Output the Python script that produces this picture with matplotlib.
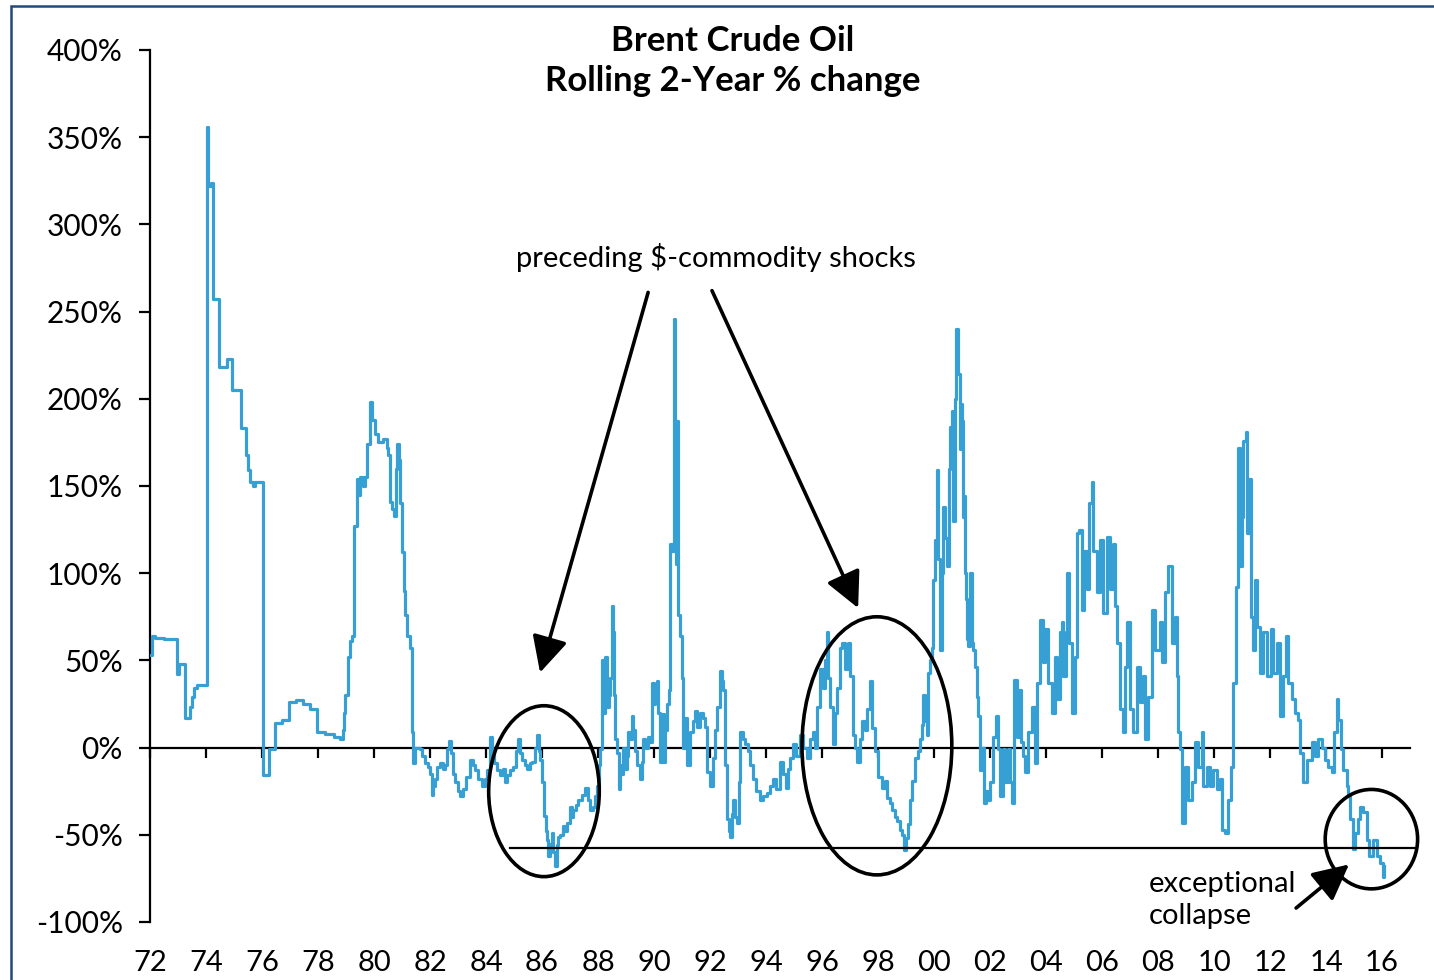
# -*- coding: utf-8 -*-

import matplotlib
matplotlib.use('Agg')
import matplotlib.pyplot as plt
import matplotlib.ticker as ticker
from matplotlib.patches import Ellipse, Rectangle


plt.rcParams['font.family'] = ['Lato', 'DejaVu Sans']
plt.rcParams['axes.unicode_minus'] = False

# Brent, rolling 2-year % change (decimal year, %)
years = [
    1972.00, 1972.08, 1972.17, 1972.50, 1972.96, 1973.04, 1973.25, 1973.42, 1973.50, 1973.58,
    1973.67, 1974.04, 1974.08, 1974.17, 1974.25, 1974.46, 1974.75, 1974.92, 1975.25, 1975.42,
    1975.50, 1975.58, 1975.67, 1975.75, 1976.04, 1976.25, 1976.46, 1976.71, 1976.96, 1977.21,
    1977.46, 1977.71, 1977.96, 1978.25, 1978.58, 1978.79, 1978.89, 1978.93, 1978.96, 1979.07,
    1979.14, 1979.21, 1979.29, 1979.39, 1979.43, 1979.50, 1979.61, 1979.68, 1979.75, 1979.86,
    1979.93, 1980.04, 1980.14, 1980.32, 1980.46, 1980.50, 1980.57, 1980.64, 1980.71, 1980.79,
    1980.82, 1980.89, 1980.93, 1981.00, 1981.07, 1981.11, 1981.18, 1981.29, 1981.36, 1981.39,
    1981.46, 1981.57, 1981.64, 1981.71, 1981.82, 1981.93, 1982.00, 1982.07, 1982.11, 1982.18,
    1982.25, 1982.36, 1982.46, 1982.54, 1982.61, 1982.68, 1982.75, 1982.82, 1982.89, 1983.00,
    1983.07, 1983.18, 1983.29, 1983.43, 1983.54, 1983.61, 1983.71, 1983.86, 1983.96, 1984.04,
    1984.14, 1984.21, 1984.29, 1984.39, 1984.50, 1984.61, 1984.68, 1984.75, 1984.86, 1984.96,
    1985.07, 1985.14, 1985.21, 1985.29, 1985.39, 1985.46, 1985.57, 1985.64, 1985.75, 1985.82,
    1985.89, 1985.93, 1986.00, 1986.07, 1986.14, 1986.18, 1986.21, 1986.29, 1986.36, 1986.39,
    1986.46, 1986.54, 1986.57, 1986.64, 1986.75, 1986.82, 1986.89, 1987.00, 1987.07, 1987.11,
    1987.21, 1987.29, 1987.43, 1987.54, 1987.64, 1987.71, 1987.82, 1987.89, 1987.96, 1988.04,
    1988.07, 1988.14, 1988.18, 1988.25, 1988.32, 1988.39, 1988.43, 1988.50, 1988.54, 1988.57,
    1988.61, 1988.68, 1988.75, 1988.79, 1988.86, 1988.89, 1988.96, 1989.04, 1989.07, 1989.14,
    1989.21, 1989.25, 1989.32, 1989.39, 1989.50, 1989.57, 1989.61, 1989.68, 1989.79, 1989.86,
    1989.93, 1990.00, 1990.04, 1990.11, 1990.14, 1990.21, 1990.29, 1990.36, 1990.39, 1990.46,
    1990.54, 1990.57, 1990.64, 1990.71, 1990.75, 1990.79, 1990.82, 1990.86, 1990.93, 1991.00,
    1991.04, 1991.11, 1991.18, 1991.29, 1991.39, 1991.46, 1991.54, 1991.64, 1991.75, 1991.82,
    1991.89, 1992.00, 1992.11, 1992.18, 1992.25, 1992.36, 1992.43, 1992.46, 1992.54, 1992.61,
    1992.68, 1992.71, 1992.79, 1992.82, 1992.89, 1992.96, 1993.04, 1993.07, 1993.18, 1993.25,
    1993.36, 1993.43, 1993.54, 1993.64, 1993.79, 1993.89, 1994.04, 1994.14, 1994.25, 1994.36,
    1994.50, 1994.61, 1994.71, 1994.79, 1994.86, 1994.96, 1995.07, 1995.21, 1995.32, 1995.46,
    1995.57, 1995.68, 1995.75, 1995.82, 1995.93, 1996.04, 1996.11, 1996.18, 1996.21, 1996.29,
    1996.39, 1996.46, 1996.54, 1996.64, 1996.71, 1996.82, 1996.93, 1997.00, 1997.11, 1997.18,
    1997.25, 1997.36, 1997.43, 1997.54, 1997.61, 1997.71, 1997.79, 1997.89, 1998.00, 1998.14,
    1998.25, 1998.32, 1998.43, 1998.50, 1998.61, 1998.68, 1998.79, 1998.86, 1998.93, 1999.00,
    1999.07, 1999.14, 1999.21, 1999.32, 1999.43, 1999.50, 1999.57, 1999.61, 1999.68, 1999.75,
    1999.79, 1999.86, 1999.93, 1999.96, 2000.04, 2000.11, 2000.14, 2000.21, 2000.29, 2000.32,
    2000.39, 2000.46, 2000.54, 2000.57, 2000.64, 2000.68, 2000.75, 2000.79, 2000.86, 2000.93,
    2000.96, 2001.00, 2001.04, 2001.07, 2001.11, 2001.14, 2001.18, 2001.21, 2001.29, 2001.36,
    2001.39, 2001.46, 2001.54, 2001.57, 2001.64, 2001.71, 2001.79, 2001.86, 2001.93, 2002.00,
    2002.11, 2002.21, 2002.29, 2002.36, 2002.46, 2002.54, 2002.64, 2002.71, 2002.79, 2002.86,
    2002.96, 2003.04, 2003.11, 2003.18, 2003.25, 2003.36, 2003.50, 2003.61, 2003.68, 2003.79,
    2003.89, 2003.96, 2004.07, 2004.21, 2004.32, 2004.39, 2004.50, 2004.57, 2004.61, 2004.71,
    2004.75, 2004.82, 2004.93, 2005.04, 2005.11, 2005.18, 2005.29, 2005.36, 2005.46, 2005.54,
    2005.64, 2005.68, 2005.82, 2005.93, 2006.04, 2006.18, 2006.29, 2006.39, 2006.46, 2006.54,
    2006.64, 2006.75, 2006.82, 2006.89, 2007.00, 2007.11, 2007.25, 2007.36, 2007.46, 2007.54,
    2007.64, 2007.79, 2007.89, 2008.07, 2008.14, 2008.25, 2008.36, 2008.50, 2008.61, 2008.68,
    2008.71, 2008.79, 2008.86, 2008.96, 2009.07, 2009.21, 2009.32, 2009.43, 2009.57, 2009.61,
    2009.75, 2009.86, 2009.96, 2010.11, 2010.21, 2010.29, 2010.39, 2010.50, 2010.61, 2010.68,
    2010.79, 2010.86, 2010.93, 2011.00, 2011.04, 2011.14, 2011.18, 2011.25, 2011.32, 2011.39,
    2011.46, 2011.54, 2011.64, 2011.75, 2011.89, 2012.04, 2012.11, 2012.25, 2012.36, 2012.46,
    2012.57, 2012.64, 2012.79, 2012.89, 2013.00, 2013.07, 2013.18, 2013.32, 2013.50, 2013.61,
    2013.71, 2013.86, 2013.96, 2014.07, 2014.21, 2014.29, 2014.39, 2014.43, 2014.54, 2014.61,
    2014.75, 2014.79, 2014.86, 2014.96, 2015.04, 2015.14, 2015.21, 2015.32, 2015.46, 2015.54,
    2015.68, 2015.82, 2015.93, 2016.04, 2016.07,
    ]

change = [
    53, 64, 63, 62, 42, 48, 17, 23, 29, 34,
    36, 356, 322, 324, 257, 218, 223, 205, 183, 168,
    159, 152, 150, 152, -16, -1, 14, 16, 26, 27,
    25, 22, 9, 8, 6, 5, 10, 20, 30, 52,
    61, 64, 127, 154, 145, 155, 150, 155, 174, 198,
    188, 180, 175, 177, 172, 168, 141, 137, 133, 160,
    174, 165, 140, 112, 90, 76, 64, 57, 9, -9,
    0, 0, -1, -5, -9, -11, -15, -27, -22, -18,
    -11, -9, -12, -10, -1, 4, -3, -15, -20, -25,
    -28, -24, -17, -7, -10, -13, -18, -22, -18, -13,
    6, -2, -9, -13, -16, -12, -20, -16, -13, -11,
    -2, 5, -3, -7, -10, -12, -9, -8, 0, 7,
    -2, -7, -20, -39, -48, -53, -62, -55, -49, -60,
    -68, -56, -51, -50, -45, -48, -43, -34, -40, -36,
    -33, -30, -27, -23, -30, -36, -34, -28, -22, -10,
    -1, 50, 20, 52, 23, 30, 40, 81, 66, 30,
    5, -3, -24, -10, -15, 0, -12, -5, 9, 5,
    18, 10, -2, -10, -18, -8, 5, 0, 6, 3,
    37, 25, 30, 38, 20, -8, 19, -8, 10, 25,
    33, 117, 113, 246, 160, 105, 187, 76, 64, 40,
    0, 17, -10, 9, 15, 21, 12, 20, 17, 12,
    -14, -22, -6, 10, 23, 44, 38, 33, -10, -41,
    -48, -51, -38, -30, -40, -43, -20, 9, 5, 2,
    -2, -10, -18, -25, -30, -28, -26, -22, -18, -24,
    -8, -15, -23, -12, -6, 2, -5, 7, 0, -6,
    5, 9, 0, 23, 45, 34, 50, 66, 40, 23,
    2, 20, 34, 57, 60, 45, 60, 41, 7, 0,
    -8, 5, 15, 10, 22, 38, 11, -2, -17, -23,
    -19, -29, -32, -36, -40, -42, -47, -50, -59, -52,
    -44, -30, -19, -6, -2, 5, 13, 30, 15, 7,
    43, 50, 57, 96, 119, 159, 108, 56, 100, 138,
    120, 104, 160, 184, 193, 130, 200, 240, 214, 171,
    197, 187, 132, 144, 100, 85, 62, 58, 100, 60,
    56, 46, 29, 18, -13, 0, -32, -25, -30, -20,
    6, 18, -1, -28, -1, -20, -1, -20, -32, 39,
    6, 33, 3, -5, -14, 9, 23, -9, 37, 73,
    49, 68, 37, 20, 52, 28, 66, 72, 41, 66,
    100, 60, 20, 52, 123, 125, 79, 113, 91, 140,
    152, 113, 89, 119, 77, 121, 91, 117, 81, 60,
    22, 9, 46, 72, 22, 9, 46, 26, 41, 5,
    29, 79, 56, 72, 49, 89, 104, 60, 75, 41,
    9, -1, -43, -11, -30, -20, 3, -11, 9, -22,
    -11, -22, -13, -24, -18, -47, -49, -30, -11, 37,
    92, 172, 104, 132, 176, 181, 123, 154, 75, 56,
    96, 69, 43, 66, 41, 68, 43, 60, 18, 41,
    64, 37, 28, 20, 16, -3, -20, -7, 3, -5,
    5, 0, -7, -11, -14, 9, 28, 16, -1, -13,
    -22, -28, -41, -58, -49, -41, -34, -37, -53, -62,
    -53, -62, -66, -74, -68,
    ]

tick_years = list(range(1972, 2017, 2))
y_ticks = [-100, -50, 0, 50, 100, 150, 200, 250, 300, 350, 400]

# annotations: ellipse centre (year, %), width (years), height (%)
circles = [
    (1986.07, -25.0, 3.95, 98),
    (1997.96, 1.0, 5.35, 148),
    (2015.62, -52.5, 3.30, 57),
    ]
floor_level = -57.5
floor_start = 1984.86

line_color = '#36A0D4'
frame_color = '#23487A'


def percent_formatter(x, pos = 0):
    return '%1.0f%%' % x


def year_formatter(x, pos = 0):
    return '%02d' % (int(round(x)) % 100)


fig = plt.figure(figsize = (14.34, 9.8), dpi = 100)
ax = fig.add_axes([0.1046, 0.0592, 0.8787, 0.8898])

ax.plot(years, change, color = line_color, lw = 2.3, drawstyle = 'steps-post', zorder = 3)

ax.set_xlim(1972, 2017)
ax.set_ylim(-100, 400)

for side in ['top', 'right']:
    ax.spines[side].set_visible(False)
ax.spines['left'].set_linewidth(1.6)
ax.spines['bottom'].set_position(('data', 0))
ax.spines['bottom'].set_linewidth(1.6)
ax.spines['bottom'].set_zorder(2)

ax.set_yticks(y_ticks)
ax.yaxis.set_major_formatter(ticker.FuncFormatter(percent_formatter))
ax.tick_params(axis = 'y', direction = 'out', length = 8, width = 1.6, pad = 11.5,
               labelsize = 21.5)
ax.set_xticks(tick_years)
ax.tick_params(axis = 'x', direction = 'out', length = 7, width = 1.6, labelbottom = False)

sec = ax.secondary_xaxis('bottom')
sec.set_xticks(tick_years)
sec.xaxis.set_major_formatter(ticker.FuncFormatter(year_formatter))
sec.tick_params(axis = 'x', length = 0, pad = 20, labelsize = 21)
sec.spines['bottom'].set_visible(False)

# horizontal floor line and circles
ax.plot([floor_start, 2017.2], [floor_level, floor_level], color = 'k', lw = 1.6, zorder = 4,
        clip_on = False)
for xc, yc, w, h in circles:
    ax.add_patch(Ellipse((xc, yc), w, h, fill = False, edgecolor = 'k', lw = 2.6, zorder = 5,
                         clip_on = False))

arrow_props = dict(arrowstyle = '-|>,head_length=1.1,head_width=0.55', color = 'k', lw = 2.6,
                   mutation_scale = 20, shrinkA = 0, shrinkB = 0)
ax.annotate('', xy = (1985.93, 43), xytext = (1989.79, 261), arrowprops = arrow_props, zorder = 6)
ax.annotate('', xy = (1997.29, 80), xytext = (1992.07, 262), arrowprops = arrow_props, zorder = 6)
ax.annotate('', xy = (2014.82, -67), xytext = (2012.93, -92), arrowprops = arrow_props, zorder = 6,
            annotation_clip = False)

ax.text(1992.21, 281, r'preceding \$-commodity shocks', ha = 'center', va = 'center', fontsize = 21)
ax.text(2007.68, -87.4, 'exceptional\ncollapse', ha = 'left', va = 'center', fontsize = 21,
        linespacing = 1.3)

fig.text(0.511, 1 - 61 / 980., 'Brent Crude Oil\nRolling 2-Year % change', ha = 'center',
         va = 'center', fontsize = 25, fontweight = 'bold', linespacing = 1.3)

# frame around the whole chart
fig.patches.append(Rectangle((11 / 1434., -0.02), 1.1, 1 - 6 / 980. + 0.02, transform = fig.transFigure,
                             fill = False, edgecolor = frame_color, lw = 1.8))

fig.savefig('out.png', dpi = 100)
